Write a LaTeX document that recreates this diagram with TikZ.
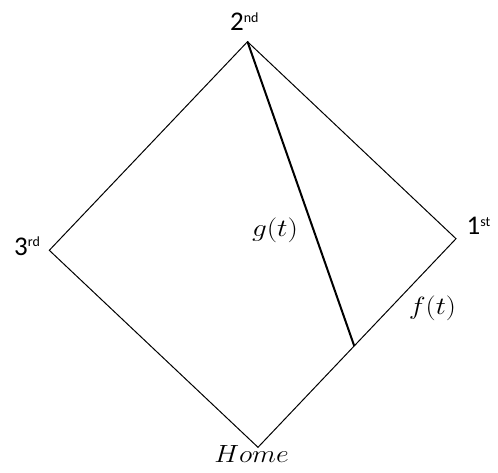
\documentclass[tikz,border=0pt]{standalone}
\usepackage{fontspec}
\usepackage{graphicx}
\setmainfont{Carlito}
\usetikzlibrary{calc}
\newcommand\ordsup[1]{\raisebox{8.5pt}{\fontsize{14}{14}\selectfont #1}}
\newcommand\wmath[2]{\scalebox{#1}[1]{$#2$}}
\begin{document}
\begin{tikzpicture}[x=1pt,y=-1pt,
  side/.style={line width=1pt, line join=miter},
  path/.style={line width=2pt},
  ord/.style={inner sep=0pt, font=\fontsize{27}{27}\selectfont},
  mlab/.style={inner sep=0pt, font=\fontsize{27}{27}\selectfont},
  hlab/.style={inner sep=0pt, font=\fontsize{25}{25}\selectfont}]
\useasboundingbox (0,0) rectangle (498,472);
\coordinate (second) at (247.5,41.7);
\coordinate (third) at (49.3,250.3);
\coordinate (first) at (456,238.7);
\coordinate (home) at (258,447.3);
\coordinate (ft) at ($(home)!0.486!(first)$);
\draw[side] (home) -- (first) -- (second) -- (third) -- cycle;
\draw[path] (second) -- (ft);
\node[ord, anchor=base west] (l2) at (230,30.7) {2\ordsup{nd}};
\node[ord, anchor=base west] (l3) at (14,255) {3\ordsup{rd}};
\node[ord, anchor=base west] (l1) at (466.5,234.5) {1\ordsup{st}};
\node[mlab, anchor=base] (lg) at (275,236) {\wmath{1.18}{g(t)}};
\node[mlab, anchor=base] (lf) at (432.5,314) {\wmath{1.15}{f(t)}};
\node[hlab, anchor=base] (lh) at (251.5,462) {\wmath{1.12}{Home}};
\end{tikzpicture}
\end{document}
